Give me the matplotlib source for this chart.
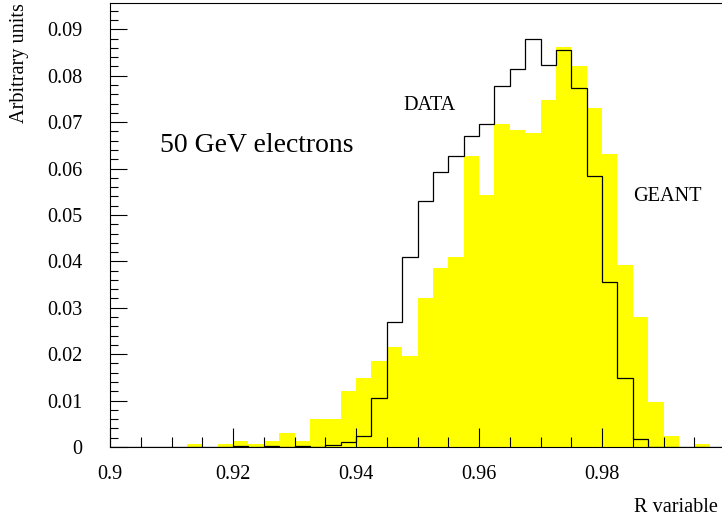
"""
R variable distribution, 50 GeV electrons: DATA vs GEANT
"""

import matplotlib
matplotlib.use("Agg")
import matplotlib.pyplot as plt
import numpy as np
from matplotlib.ticker import MultipleLocator, FuncFormatter

# 40 bins of width 0.0025 from 0.9 to 1.0
binEdges = np.linspace(0.9, 1.0, 41)

geant = [0, 0, 0, 0, 0, 0.0006, 0, 0.0006, 0.0013, 0.0006,
         0.0013, 0.0030, 0.0013, 0.0060, 0.0060, 0.0120, 0.0149, 0.0185, 0.0215, 0.0196,
         0.0321, 0.0386, 0.0410, 0.0626, 0.0542, 0.0696, 0.0683, 0.0677, 0.0748, 0.0861,
         0.0820, 0.0731, 0.0631, 0.0392, 0.0281, 0.0097, 0.0024, 0, 0.0007, 0]

data = [0, 0, 0.0001, 0.0001, 0.0001, 0.0001, 0.0001, 0.0001, 0.0002, 0.0001,
        0.0002, 0.0001, 0.0002, 0.0001, 0.0004, 0.0010, 0.0024, 0.0105, 0.0270, 0.0409,
        0.0531, 0.0593, 0.0626, 0.0670, 0.0696, 0.0777, 0.0814, 0.0880, 0.0823, 0.0856,
        0.0774, 0.0583, 0.0356, 0.0148, 0.0017, 0.0001, 0, 0, 0, 0]

xTicks = [0.9, 0.92, 0.94, 0.96, 0.98]
yTicks = [0, 0.01, 0.02, 0.03, 0.04, 0.05, 0.06, 0.07, 0.08, 0.09]

plt.rcParams["font.family"] = ["Liberation Serif", "DejaVu Serif"]
fs = 14.6

W, H = 722, 518
fig = plt.figure(figsize=(W/100, H/100), dpi=100)
ax = fig.add_axes([110/W, (H-447)/H, 615/W, (447-3.3)/H])

ax.stairs(geant, binEdges, fill=True, color="#ffff00", linewidth=0)
ax.stairs(data, binEdges, color="black", linewidth=0.9)

ax.set(xlim=[0.9, 1.0], ylim=[0, 0.0956])
ax.set_xticks(xTicks)
ax.set_yticks(yTicks)
ax.xaxis.set_minor_locator(MultipleLocator(0.005))
ax.yaxis.set_minor_locator(MultipleLocator(0.002))
ax.xaxis.set_major_formatter(FuncFormatter(lambda v, p: "{:g}".format(round(v, 3))))
ax.yaxis.set_major_formatter(FuncFormatter(lambda v, p: "{:g}".format(round(v, 3))))

for s in ax.spines.values():
    s.set_linewidth(0.8)
    s.set_zorder(5)
ax.spines["right"].set_visible(False)

ax.tick_params(axis="x", which="major", direction="in", length=13.4, width=0.8, pad=13, labelsize=fs)
ax.tick_params(axis="x", which="minor", direction="in", length=7, width=0.8)
ax.tick_params(axis="y", which="major", direction="in", length=12, width=0.8, pad=20, labelsize=fs)
ax.tick_params(axis="y", which="minor", direction="in", length=6, width=0.8)
ax.tick_params(top=False, right=False, which="both")

fig.text(403/W, 1-110/H, "DATA", fontsize=fs, va="baseline", ha="left")
fig.text(160/W, 1-152.5/H, "50 GeV electrons", fontsize=20, va="baseline", ha="left")
fig.text(633/W, 1-200.7/H, "GEANT", fontsize=fs, va="baseline", ha="left")
fig.text(718.3/W, 1-511.7/H, "R variable", fontsize=fs, va="baseline", ha="right")
fig.text(20/W, 1-3.3/H, "Arbitrary units", fontsize=fs, rotation=90, va="top", ha="center")

fig.savefig("out.png", dpi=100)
